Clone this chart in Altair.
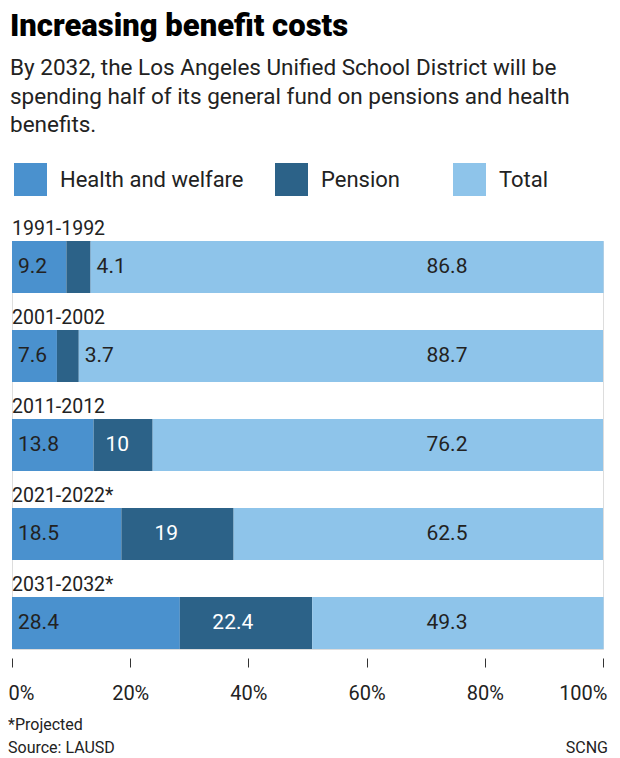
import altair as alt
import pandas as pd

years = ["1991-1992", "2001-2002", "2011-2012", "2021-2022*", "2031-2032*"]
health = [9.2, 7.6, 13.8, 18.5, 28.4]
pension = [4.1, 3.7, 10, 19, 22.4]
total = [86.8, 88.7, 76.2, 62.5, 49.3]
categories = ["Health and welfare", "Pension", "Total"]
colors = ["#4a91ce", "#2c6288", "#8ec4ea"]
tick_values = [0, 20, 40, 60, 80, 100]

rows = []
for i, yr in enumerate(years):
    start = 0.0
    for cat, val in zip(categories, [health[i], pension[i], total[i]]):
        rows.append({"year": yr, "cat": cat, "value": val, "x0": start, "x1": start + val})
        start += val
df = pd.DataFrame(rows)

FONT = "Roboto"
DARK = "#222222"

base = alt.Chart(df)
xs = alt.Scale(domain=[0, 100], nice=False, zero=True)
ys = alt.Scale(paddingInner=37 / 89, paddingOuter=0)
Y = alt.Y("year:N", sort=years, scale=ys, axis=None)

bars = base.mark_bar().encode(
    x=alt.X("x0:Q", scale=xs,
            axis=alt.Axis(values=tick_values, labelExpr="datum.value + '%'", title=None,
                          domain=False, grid=False, tickSize=9, tickColor="#333333", tickWidth=1,
                          offset=9, labelPadding=16, labelFontSize=20, labelColor=DARK,
                          labelFont=FONT, labelFlush=True, labelFlushOffset=4)),
    x2="x1:Q",
    y=Y,
    color=alt.Color("cat:N", scale=alt.Scale(domain=categories, range=colors), legend=None),
)

year_labels = base.transform_filter(alt.datum.cat == "Total").mark_text(
    align="left", baseline="alphabetic", yOffset=-32, fontSize=19.5, font=FONT, color=DARK
).encode(x=alt.value(0), y=Y, text="year:N")

health_labels = base.transform_filter(alt.datum.cat == "Health and welfare").mark_text(
    align="left", baseline="middle", dx=6, fontSize=21, font=FONT, color=DARK
).encode(x=alt.X("x0:Q", scale=xs), y=Y, text=alt.Text("value:Q", format="~g"))

pension_in = base.transform_filter(
    (alt.datum.cat == "Pension") & (alt.datum.value >= 5)
).transform_calculate(lx="datum.x0 + 0.4 * datum.value").mark_text(
    align="center", baseline="middle", fontSize=21, font=FONT, color="white"
).encode(x=alt.X("lx:Q", scale=xs), y=Y, text=alt.Text("value:Q", format="~g"))

pension_out = base.transform_filter(
    (alt.datum.cat == "Pension") & (alt.datum.value < 5)
).mark_text(
    align="left", baseline="middle", dx=6, fontSize=21, font=FONT, color=DARK
).encode(x=alt.X("x1:Q", scale=xs), y=Y, text=alt.Text("value:Q", format="~g"))

total_labels = base.transform_filter(alt.datum.cat == "Total").transform_calculate(
    lx="73.6"
).mark_text(
    align="center", baseline="middle", fontSize=21, font=FONT, color=DARK
).encode(x=alt.X("lx:Q", scale=xs), y=Y, text=alt.Text("value:Q", format="~g"))

one = pd.DataFrame({"a": [0]})
anno = alt.Chart(one)

title = anno.mark_text(
    align="left", baseline="alphabetic", fontSize=31, fontWeight=900,
    font=FONT, color="#000000"
).encode(x=alt.value(-2), y=alt.value(-205), text=alt.value("Increasing benefit costs"))

subtitle = anno.mark_text(
    align="left", baseline="alphabetic", fontSize=22.5, font=FONT, color=DARK, lineHeight=28.5
).encode(x=alt.value(-2), y=alt.value(-166), text=alt.value([
    "By 2032, the Los Angeles Unified School District will be",
    "spending half of its general fund on pensions and health",
    "benefits.",
]))

leg_x = [2, 263, 441]
leg_layers = []
for cat, col, lx in zip(categories, colors, leg_x):
    leg_layers.append(anno.mark_rect(color=col).encode(
        x=alt.value(lx), x2=alt.value(lx + 33), y=alt.value(-78), y2=alt.value(-45)))
    leg_layers.append(anno.mark_text(
        align="left", baseline="middle", fontSize=22, font=FONT, color=DARK
    ).encode(x=alt.value(lx + 46), y=alt.value(-61), text=alt.value(cat)))

foot1 = anno.mark_text(align="left", baseline="alphabetic", fontSize=16, font=FONT, color=DARK).encode(
    x=alt.value(-4), y=alt.value(489), text=alt.value("*Projected"))
foot2 = anno.mark_text(align="left", baseline="alphabetic", fontSize=16, font=FONT, color=DARK).encode(
    x=alt.value(-4), y=alt.value(512), text=alt.value("Source: LAUSD"))
foot3 = anno.mark_text(align="right", baseline="alphabetic", fontSize=16, font=FONT, color=DARK).encode(
    x=alt.value(596), y=alt.value(512), text=alt.value("SCNG"))

chart = alt.layer(
    bars, year_labels, health_labels, pension_in, pension_out, total_labels,
    title, subtitle, *leg_layers, foot1, foot2, foot3
).properties(
    width=591, height=408,
    padding={"left": 4, "top": 233, "right": 9, "bottom": 109},
    autosize=alt.AutoSizeParams(type="none"),
).configure_view(stroke=None).configure(background="white")

chart.save("out.html", embed_options={"renderer": "svg", "actions": False})
